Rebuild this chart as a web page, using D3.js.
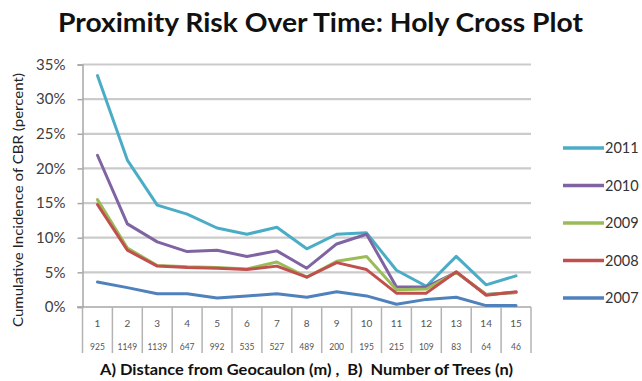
<!DOCTYPE html>
<html>
<head>
<meta charset="utf-8">
<script src="https://cdn.jsdelivr.net/npm/d3@7"></script>
<style>
  html, body { margin: 0; padding: 0; background: #fff; }
  svg { display: block; }
  text { font-family: Lato, "Open Sans", "DejaVu Sans", sans-serif; }
</style>
</head>
<body>
<svg id="chart" width="642" height="381"></svg>
<script>
// Category labels: distance band (row A) and number of trees (row B)
const distances = ["1","2","3","4","5","6","7","8","9","10","11","12","13","14","15"];
const treeCounts = ["925","1149","1139","647","992","535","527","489","200","195","215","109","83","64","46"];

// Cumulative incidence of CBR (percent) per year
const years = ["2011","2010","2009","2008","2007"];
const v2011 = [33.4, 21.2, 14.7, 13.4, 11.4, 10.5, 11.5, 8.4, 10.5, 10.7, 5.3, 3.0, 7.3, 3.2, 4.5];
const v2010 = [21.9, 12.0, 9.4, 8.0, 8.2, 7.3, 8.1, 5.6, 9.1, 10.5, 2.9, 2.9, 5.0, 1.8, 2.1];
const v2009 = [15.5, 8.5, 6.0, 5.8, 5.7, 5.5, 6.5, 4.3, 6.6, 7.3, 2.5, 2.6, 5.0, 1.8, 2.1];
const v2008 = [14.8, 8.2, 5.9, 5.7, 5.6, 5.4, 5.9, 4.3, 6.4, 5.4, 2.0, 2.0, 5.1, 1.7, 2.2];
const v2007 = [3.6, 2.8, 1.9, 1.9, 1.3, 1.6, 1.9, 1.4, 2.2, 1.6, 0.4, 1.1, 1.4, 0.2, 0.2];
const yTicks = [0, 5, 10, 15, 20, 25, 30, 35];

const seriesValues = [v2011, v2010, v2009, v2008, v2007];
const seriesColors = ["#4bacc6", "#8064a2", "#9bbb59", "#c0504d", "#4f81bd"];

const svg = d3.select("#chart");

const x = d3.scaleBand().domain(distances).range([82.5, 531]).padding(0);
const y = d3.scaleLinear().domain([0, 35]).range([307, 64.5]);

// Title
svg.append("text")
  .attr("x", 58).attr("y", 32)
  .attr("textLength", 525).attr("lengthAdjust", "spacingAndGlyphs")
  .style("font-size", "26px").style("font-weight", "bold").style("fill", "#111")
  .text("Proximity Risk Over Time: Holy Cross Plot");

// Horizontal gridlines
svg.append("g").selectAll("line")
  .data(yTicks.filter(d => d > 0))
  .join("line")
  .attr("x1", 82.5).attr("x2", 531)
  .attr("y1", d => y(d)).attr("y2", d => y(d))
  .attr("stroke", "#cbcbcb").attr("stroke-width", 2.2);

// Y axis
const yAxis = svg.append("g")
  .attr("transform", "translate(82.5,0)")
  .call(d3.axisLeft(y).tickValues(yTicks).tickFormat(d => d + "%").tickSize(5).tickPadding(12));
yAxis.select(".domain").attr("stroke", "#a6a6a6").attr("stroke-width", 1.5);
yAxis.selectAll(".tick line").attr("stroke", "#a6a6a6").attr("stroke-width", 1.5);
yAxis.selectAll(".tick text")
  .style("font-size", "15px").style("fill", "#404040")
  .style("font-family", "Lato, 'Open Sans', sans-serif");

// Y axis title
svg.append("text")
  .attr("transform", "translate(23,200) rotate(-90)")
  .attr("text-anchor", "middle")
  .attr("textLength", 254).attr("lengthAdjust", "spacingAndGlyphs")
  .style("font-size", "13px").style("fill", "#222")
  .text("Cumulative Incidence of CBR (percent)");

// X axis baseline and category table
svg.append("line")
  .attr("x1", 77).attr("x2", 531).attr("y1", y(0)).attr("y2", y(0))
  .attr("stroke", "#a6a6a6").attr("stroke-width", 1.5);

const sepX = distances.map(d => x(d)).concat([x(distances[distances.length - 1]) + x.bandwidth()]);
svg.append("g").selectAll("line")
  .data(sepX)
  .join("line")
  .attr("x1", d => d).attr("x2", d => d)
  .attr("y1", y(0)).attr("y2", 353)
  .attr("stroke", "#b3b3b3").attr("stroke-width", 1.5);

svg.append("g").selectAll("text")
  .data(distances)
  .join("text")
  .attr("x", d => x(d) + x.bandwidth() / 2)
  .attr("y", 327)
  .attr("text-anchor", "middle")
  .style("font-size", "10px").style("fill", "#555")
  .text(d => d);

svg.append("g").selectAll("text")
  .data(treeCounts)
  .join("text")
  .attr("x", (d, i) => x(distances[i]) + x.bandwidth() / 2)
  .attr("y", 350)
  .attr("text-anchor", "middle")
  .style("font-size", "8.5px").style("fill", "#555")
  .text(d => d);

// X axis title (spacing kept as written)
svg.append("text")
  .attr("x", 100).attr("y", 375)
  .attr("textLength", 413).attr("lengthAdjust", "spacingAndGlyphs")
  .style("white-space", "pre")
  .style("font-size", "15.5px").style("font-weight", "bold").style("fill", "#111")
  .text("A) Distance from Geocaulon (m) ,  B)  Number of Trees (n)");

// Series lines
const line = d3.line()
  .x((d, i) => x(distances[i]) + x.bandwidth() / 2)
  .y(d => y(d));

svg.append("g").selectAll("path")
  .data(seriesValues)
  .join("path")
  .attr("d", d => line(d))
  .attr("fill", "none")
  .attr("stroke", (d, i) => seriesColors[i])
  .attr("stroke-width", 3)
  .attr("stroke-linejoin", "round")
  .attr("stroke-linecap", "round");

// Legend
const legend = svg.append("g").selectAll("g")
  .data(years)
  .join("g")
  .attr("transform", (d, i) => `translate(563,${148 + i * 37.5})`);
legend.append("line")
  .attr("x1", 0).attr("x2", 41).attr("y1", 0).attr("y2", 0)
  .attr("stroke", (d, i) => seriesColors[i]).attr("stroke-width", 3.5);
legend.append("text")
  .attr("x", 42).attr("y", 5)
  .style("font-size", "14.5px").style("fill", "#333")
  .text(d => d);
</script>
</body>
</html>
